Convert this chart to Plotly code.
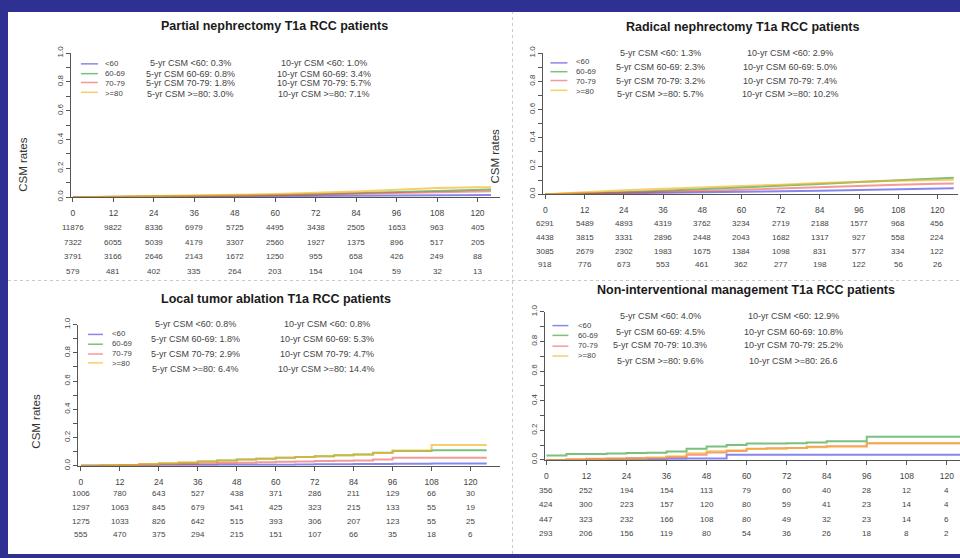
import plotly.graph_objects as go

# ---------------- data ----------------
groups = ["<60", "60-69", "70-79", ">=80"]
month_ticks = [0, 12, 24, 36, 48, 60, 72, 84, 96, 108, 120]
y_ticks = [0.0, 0.1, 0.2, 0.3, 0.4, 0.5, 0.6, 0.7, 0.8, 0.9, 1.0]
y_ticktext = ["0.0", "", "0.2", "", "0.4", "", "0.6", "", "0.8", "", "1.0"]

titles = ["Partial nephrectomy T1a RCC patients",
          "Radical nephrectomy T1a RCC patients",
          "Local tumor ablation T1a RCC patients",
          "Non-interventional management T1a RCC patients"]

# Panel 1: partial nephrectomy
p1_months = [0, 12, 24, 36, 48, 60, 72, 84, 96, 108, 120, 124]
p1_lt60 = [0, 0.001, 0.002, 0.003, 0.004, 0.005, 0.006, 0.008, 0.010, 0.012, 0.014, 0.015]
p1_60_69 = [0, 0.002, 0.004, 0.007, 0.011, 0.015, 0.020, 0.027, 0.035, 0.044, 0.052, 0.054]
p1_70_79 = [0, 0.002, 0.004, 0.006, 0.009, 0.013, 0.018, 0.024, 0.030, 0.036, 0.040, 0.041]
p1_ge80 = [0, 0.003, 0.006, 0.010, 0.016, 0.022, 0.030, 0.040, 0.052, 0.064, 0.068, 0.069]
p1_5yr = ["0.3%", "0.8%", "1.8%", "3.0%"]
p1_10yr = ["1.0%", "3.4%", "5.7%", "7.1%"]
p1_risk = [[11876, 9822, 8336, 6979, 5725, 4495, 3438, 2505, 1653, 963, 405],
           [7322, 6055, 5039, 4179, 3307, 2560, 1927, 1375, 896, 517, 205],
           [3791, 3166, 2646, 2143, 1672, 1250, 955, 658, 426, 249, 88],
           [579, 481, 402, 335, 264, 203, 154, 104, 59, 32, 13]]

# Panel 2: radical nephrectomy
p2_months = [0, 12, 24, 36, 48, 60, 72, 84, 96, 108, 120, 125]
p2_lt60 = [0, 0.003, 0.006, 0.009, 0.012, 0.016, 0.020, 0.025, 0.030, 0.036, 0.040, 0.043]
p2_60_69 = [0, 0.006, 0.014, 0.024, 0.035, 0.045, 0.058, 0.072, 0.086, 0.100, 0.112, 0.117]
p2_70_79 = [0, 0.005, 0.010, 0.016, 0.023, 0.032, 0.042, 0.052, 0.062, 0.068, 0.074, 0.076]
p2_ge80 = [0, 0.015, 0.028, 0.038, 0.047, 0.057, 0.068, 0.080, 0.090, 0.096, 0.100, 0.102]
p2_5yr = ["1.3%", "2.3%", "3.2%", "5.7%"]
p2_10yr = ["2.9%", "5.0%", "7.4%", "10.2%"]
p2_risk = [[6291, 5489, 4893, 4319, 3762, 3234, 2719, 2188, 1577, 968, 456],
           [4438, 3815, 3331, 2896, 2448, 2043, 1682, 1317, 927, 558, 224],
           [3085, 2679, 2302, 1983, 1675, 1384, 1098, 831, 577, 334, 122],
           [918, 776, 673, 553, 461, 362, 277, 198, 122, 56, 26]]

# Panel 3: local tumor ablation (step curves)
p3_months = [0, 6, 12, 18, 24, 30, 36, 42, 48, 54, 60, 66, 72, 78, 84, 90, 96, 102, 108, 114, 120, 125]
p3_lt60 = [0, 0.001, 0.002, 0.003, 0.004, 0.005, 0.006, 0.007, 0.008, 0.008, 0.008, 0.009,
           0.010, 0.011, 0.012, 0.013, 0.014, 0.015, 0.016, 0.016, 0.016, 0.016]
p3_60_69 = [0, 0.002, 0.005, 0.010, 0.016, 0.022, 0.030, 0.038, 0.044, 0.050, 0.056, 0.062,
            0.068, 0.074, 0.080, 0.092, 0.105, 0.105, 0.110, 0.110, 0.110, 0.110]
p3_70_79 = [0, 0.002, 0.004, 0.007, 0.010, 0.013, 0.016, 0.019, 0.022, 0.025, 0.028, 0.031,
            0.034, 0.036, 0.038, 0.044, 0.056, 0.056, 0.056, 0.056, 0.056, 0.056]
p3_ge80 = [0, 0.003, 0.006, 0.012, 0.018, 0.024, 0.030, 0.038, 0.044, 0.050, 0.056, 0.062,
           0.068, 0.074, 0.080, 0.090, 0.108, 0.108, 0.148, 0.148, 0.148, 0.148]
p3_5yr = ["0.8%", "1.8%", "2.9%", "6.4%"]
p3_10yr = ["0.8%", "5.3%", "4.7%", "14.4%"]
p3_risk = [[1006, 780, 643, 527, 438, 371, 286, 211, 129, 66, 30],
           [1297, 1063, 845, 679, 541, 425, 323, 215, 133, 55, 19],
           [1275, 1033, 826, 642, 515, 393, 306, 207, 123, 55, 25],
           [555, 470, 375, 294, 215, 151, 107, 66, 35, 18, 6]]

# Panel 4: non-interventional management (step curves)
p4_months = [0, 6, 12, 18, 24, 30, 36, 42, 48, 54, 60, 66, 72, 78, 84, 90, 96, 102, 108, 114, 120, 124]
p4_lt60 = [0, 0, 0.003, 0.004, 0.005, 0.006, 0.008, 0.010, 0.010, 0.035, 0.035, 0.035,
           0.035, 0.035, 0.035, 0.035, 0.035, 0.035, 0.035, 0.035, 0.035, 0.035]
p4_60_69 = [0.030, 0.040, 0.040, 0.044, 0.046, 0.048, 0.057, 0.075, 0.090, 0.100, 0.110, 0.110,
            0.112, 0.118, 0.126, 0.126, 0.157, 0.157, 0.157, 0.157, 0.157, 0.157]
p4_70_79 = [0, 0.004, 0.008, 0.010, 0.012, 0.015, 0.020, 0.035, 0.050, 0.060, 0.075, 0.078,
            0.080, 0.088, 0.093, 0.093, 0.113, 0.113, 0.113, 0.113, 0.113, 0.113]
p4_ge80 = [0, 0.003, 0.005, 0.008, 0.010, 0.014, 0.025, 0.045, 0.058, 0.065, 0.073, 0.075,
           0.080, 0.085, 0.090, 0.090, 0.113, 0.113, 0.113, 0.113, 0.113, 0.113]
p4_5yr = ["4.0%", "4.5%", "10.3%", "9.6%"]
p4_10yr = ["12.9%", "10.8%", "25.2%", "26.6"]
p4_risk = [[356, 252, 194, 154, 113, 79, 60, 40, 28, 12, 4],
           [424, 300, 223, 157, 120, 80, 59, 41, 23, 14, 4],
           [447, 323, 232, 166, 108, 80, 49, 32, 23, 14, 6],
           [293, 206, 156, 119, 80, 54, 36, 26, 18, 8, 2]]

# ---------------- style / layout helpers ----------------
W, H = 960, 558
FONT = "Liberation Sans, Arial, sans-serif"
colors = ["rgba(70,70,225,0.65)", "rgba(50,160,60,0.65)",
          "rgba(235,70,70,0.55)", "rgba(245,180,30,0.65)"]


def fx(p):
    return p / W


def fy(p):
    return 1 - p / H


def esc(s):
    return s.replace("<", "&lt;").replace(">", "&gt;")


panels = [
    dict(months=p1_months, series=[p1_lt60, p1_60_69, p1_70_79, p1_ge80], shape="linear",
         five=p1_5yr, ten=p1_10yr, risk=p1_risk,
         ax=70, x0=72, ppm=3.375, xr=500, y0=194, y1=47,
         title_xy=(274, 19), ytitle=(22, 160),
         leg_x=(80, 97, 103), leg_y=[58, 68, 77, 87],
         col5=190, col10=323, rows=[57, 68, 78, 89],
         risk_rows=[225, 240, 255, 270]),
    dict(months=p2_months, series=[p2_lt60, p2_60_69, p2_70_79, p2_ge80], shape="linear",
         five=p2_5yr, ten=p2_10yr, risk=p2_risk,
         ax=543, x0=545, ppm=3.27, xr=958, y0=191, y1=47,
         title_xy=(742, 20), ytitle=(495, 152),
         leg_x=(550, 567, 575), leg_y=[57, 66, 75, 85],
         col5=660, col10=790, rows=[47, 61, 75, 89],
         risk_rows=[221, 235, 249, 263]),
    dict(months=p3_months, series=[p3_lt60, p3_60_69, p3_70_79, p3_ge80], shape="hv",
         five=p3_5yr, ten=p3_10yr, risk=p3_risk,
         ax=77, x0=80, ppm=3.25, xr=500, y0=468, y1=324,
         title_xy=(275, 298), ytitle=(35, 422),
         leg_x=(87, 102, 110), leg_y=[334, 344, 354, 363],
         col5=195, col10=326, rows=[323, 339, 354, 369],
         risk_rows=[496, 511, 525, 538]),
    dict(months=p4_months, series=[p4_lt60, p4_60_69, p4_70_79, p4_ge80], shape="hv",
         five=p4_5yr, ten=p4_10yr, risk=p4_risk,
         ax=545, x0=546, ppm=3.34, xr=960, y0=462, y1=311,
         title_xy=(746, 289), ytitle=None,
         leg_x=(552, 568, 577), leg_y=[325, 335, 346, 356],
         col5=660, col10=793, rows=[315, 332, 345, 361],
         risk_rows=[493, 508, 523, 537]),
]

fig = go.Figure()
annotations = []
shapes = []
layout = {}

# white page + separators
shapes.append(dict(type="rect", xref="paper", yref="paper", x0=fx(7), x1=1, y0=0, y1=fy(5),
                   fillcolor="white", line=dict(width=0), layer="below"))
shapes.append(dict(type="line", xref="paper", yref="paper", x0=fx(512), x1=fx(512), y0=0, y1=fy(5),
                   line=dict(color="#c8c8c8", width=1, dash="dot"), layer="below"))
shapes.append(dict(type="line", xref="paper", yref="paper", x0=fx(7), x1=1, y0=fy(279), y1=fy(279),
                   line=dict(color="#c8c8c8", width=1, dash="dot"), layer="below"))

for i, p in enumerate(panels):
    n = "" if i == 0 else str(i + 1)
    xa, ya = "x" + n, "y" + n
    for g, vals, c in zip(groups, p["series"], colors):
        fig.add_trace(go.Scatter(x=p["months"], y=vals, mode="lines", name=g,
                                 line=dict(color=c, width=2, shape=p["shape"]),
                                 xaxis=xa, yaxis=ya, showlegend=False, hoverinfo="skip"))
    xr0 = (p["ax"] - p["x0"]) / p["ppm"]
    xr1 = (p["xr"] - p["x0"]) / p["ppm"]
    layout["xaxis" + n] = dict(domain=[fx(p["ax"]), fx(p["xr"])], range=[xr0, xr1],
                               anchor=ya, tickvals=month_ticks, ticks="outside", ticklen=4,
                               tickcolor="#555", showline=True, linecolor="#555", linewidth=1,
                               showgrid=False, zeroline=False, ticklabelstandoff=4,
                               tickfont=dict(family=FONT, size=8.5, color="#444"))
    layout["yaxis" + n] = dict(domain=[fy(p["y0"]), fy(p["y1"])], range=[0, 1],
                               anchor=xa, tickvals=y_ticks, ticktext=y_ticktext,
                               ticks="outside", ticklen=4, tickcolor="#555", tickangle=-90,
                               showline=True, linecolor="#555", linewidth=1,
                               showgrid=False, zeroline=False,
                               tickfont=dict(family=FONT, size=8, color="#444"))
    # title
    annotations.append(dict(text="<b>" + titles[i] + "</b>", xref="paper", yref="paper",
                            x=fx(p["title_xy"][0]), y=fy(p["title_xy"][1]), showarrow=False,
                            xanchor="center", yanchor="middle",
                            font=dict(family=FONT, size=12.5, color="#1a1a1a")))
    if p["ytitle"]:
        annotations.append(dict(text="CSM rates", xref="paper", yref="paper",
                                x=fx(p["ytitle"][0]), y=fy(p["ytitle"][1]), showarrow=False,
                                textangle=-90, xanchor="center", yanchor="middle",
                                font=dict(family=FONT, size=11.5, color="#333")))
    # legend: keys as short lines, labels as one stacked text block
    lx0, lx1, tx = p["leg_x"]
    for c, ly in zip(colors, p["leg_y"]):
        shapes.append(dict(type="line", xref="paper", yref="paper", x0=fx(lx0), x1=fx(lx1),
                           y0=fy(ly), y1=fy(ly), line=dict(color=c, width=1.5)))
    leg_mid = (p["leg_y"][0] + p["leg_y"][-1]) / 2
    annotations.append(dict(text="<br>".join(esc(g) for g in groups), xref="paper", yref="paper",
                            x=fx(tx), y=fy(leg_mid), showarrow=False, xanchor="left",
                            yanchor="middle", align="left", borderpad=0,
                            font=dict(family=FONT, size=7.8, color="#444")))
    # CSM annotations
    for g, f5, f10, ry in zip(groups, p["five"], p["ten"], p["rows"]):
        annotations.append(dict(text="5-yr CSM " + esc(g) + ": " + f5, xref="paper", yref="paper",
                                x=fx(p["col5"]), y=fy(ry), showarrow=False, xanchor="center",
                                yanchor="middle", borderpad=0,
                                font=dict(family=FONT, size=9, color="#444")))
        annotations.append(dict(text="10-yr CSM " + esc(g) + ": " + f10, xref="paper", yref="paper",
                                x=fx(p["col10"]), y=fy(ry), showarrow=False, xanchor="center",
                                yanchor="middle", borderpad=0,
                                font=dict(family=FONT, size=9, color="#444")))
    # risk table
    for row, ry in zip(p["risk"], p["risk_rows"]):
        for m, v in zip(month_ticks, row):
            annotations.append(dict(text=str(v), xref=xa, yref="paper", x=m, y=fy(ry),
                                    showarrow=False, xanchor="center", yanchor="middle",
                                    borderpad=0,
                                    font=dict(family=FONT, size=8, color="#444")))

fig.update_layout(width=W, height=H, margin=dict(l=0, r=0, t=0, b=0),
                  paper_bgcolor="#2E3192", plot_bgcolor="rgba(0,0,0,0)",
                  annotations=annotations, shapes=shapes, **layout)

fig.write_html("out.html", config={"displayModeBar": False},
               post_script="document.body.style.margin='0px';document.body.style.padding='0px';"
                           "document.body.style.overflow='hidden';")
